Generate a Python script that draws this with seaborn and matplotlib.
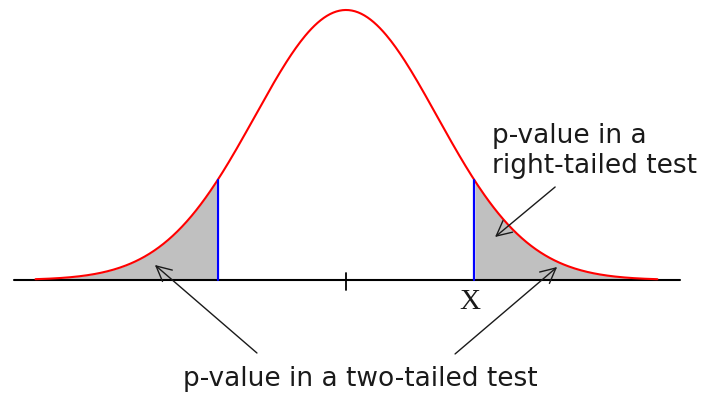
import numpy as np
import pandas as pd
import seaborn as sns
import matplotlib.pyplot as plt

# distribution parameters (standard normal, cut at +/-1.41)
mean = 0.0
sd = 1.0
z_crit = 1.41
curve_lo, curve_hi = -3.41, 3.42
axis_lo, axis_hi = -3.65, 3.67

# labels
x_label = "X"
right_label = ["p-value in a", "right-tailed test"]
bottom_label = "p-value in a two-tailed test"

sns.set_style("white")

z = np.linspace(curve_lo, curve_hi, 400)
dens = np.exp(-0.5 * ((z - mean) / sd) ** 2) / (sd * np.sqrt(2 * np.pi))
df = pd.DataFrame({"z": z, "density": dens})

fig = plt.figure(figsize=(7.02, 3.93), dpi=100)
ax = fig.add_axes([0, 0, 1, 1])

# shaded tails
left = df[df["z"] <= mean - z_crit]
right = df[df["z"] >= mean + z_crit]
ax.fill_between(left["z"], 0, left["density"], color="#c0c0c0", lw=0)
ax.fill_between(right["z"], 0, right["density"], color="#c0c0c0", lw=0)

# horizontal axis and centre tick
ax.plot([axis_lo, axis_hi], [0, 0], color="black", lw=1.5, zorder=2)
ax.plot([mean, mean], [0.0103, -0.0148], color="black", lw=1.3, zorder=2)

# normal curve
sns.lineplot(data=df, x="z", y="density", color="red", lw=1.5, ax=ax, zorder=3)

# critical value lines
h = np.exp(-0.5 * (z_crit / sd) ** 2) / (sd * np.sqrt(2 * np.pi))
for c in [mean - z_crit, mean + z_crit]:
    ax.plot([c, c], [0, h], color="blue", lw=1.6, zorder=4)

ax.set_xlim(-3.80, 3.91)
ax.set_ylim(-0.167, 0.4137)
ax.axis("off")

# labels
txt = dict(family="DejaVu Sans", fontsize=19, color="#1a1a1a")
ax.text(1.604, 0.2024, right_label[0], ha="left", va="baseline", **txt)
ax.text(1.604, 0.158, right_label[1], ha="left", va="baseline", **txt)
ax.text(0.154, -0.1566, bottom_label, ha="center", va="baseline", **txt)
ax.text(1.36, -0.032, x_label, ha="center", va="center",
        family="Liberation Serif", fontsize=21, color="#1a1a1a")

# arrows
arrow = dict(arrowstyle="->,head_length=0.6,head_width=0.3", lw=1.0,
             color="#1a1a1a", mutation_scale=18, shrinkA=0, shrinkB=0)
ax.annotate("", xy=(-2.099, 0.0222), xytext=(-0.978, -0.1079), arrowprops=arrow)
ax.annotate("", xy=(2.319, 0.0192), xytext=(1.198, -0.1093), arrowprops=arrow)
ax.annotate("", xy=(1.637, 0.0635), xytext=(2.297, 0.1374), arrowprops=arrow)

fig.savefig("out.png", dpi=100)
